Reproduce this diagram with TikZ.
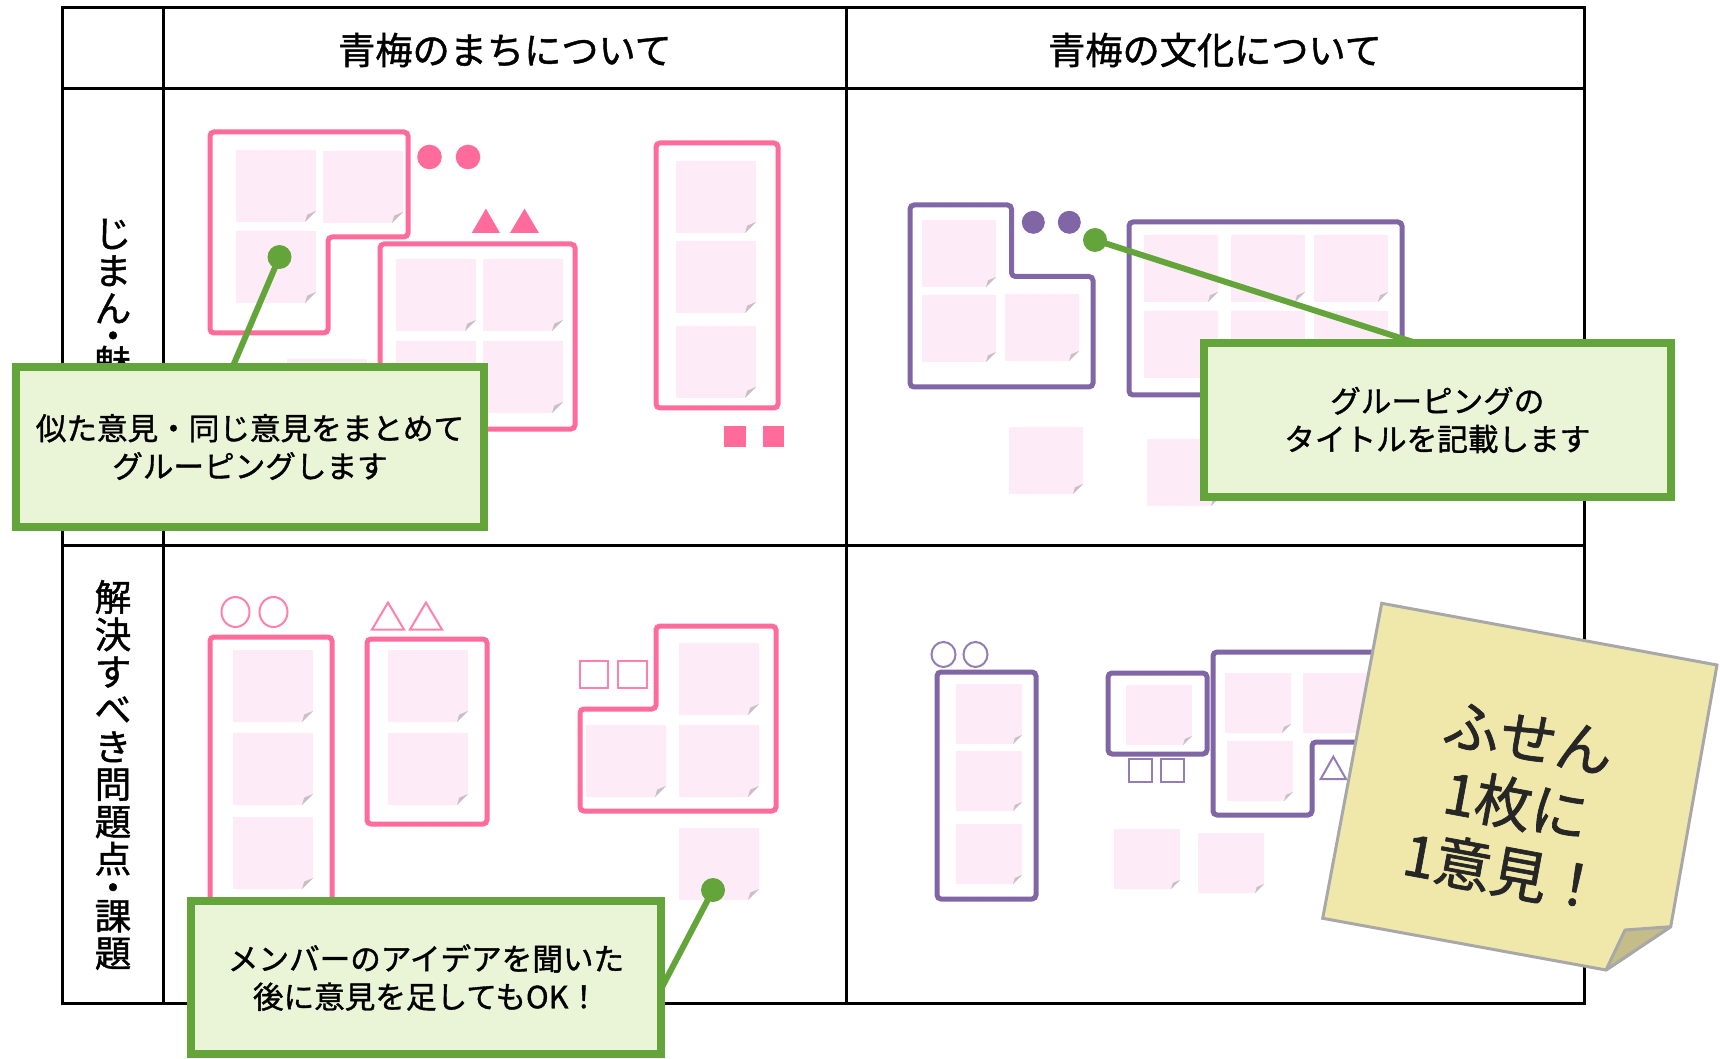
\documentclass[tikz,border=0pt]{standalone}
\usepackage{fontspec}
\newfontfamily\jp{Noto Sans CJK JP}[FakeBold=1.2]
\usetikzlibrary{calc}
\definecolor{pinkline}{HTML}{FF6B9B}
\definecolor{purpline}{HTML}{8066A4}
\definecolor{notefill}{HTML}{FDECF7}
\definecolor{foldgray}{HTML}{C9BFC9}
\definecolor{greenline}{HTML}{63A53A}
\definecolor{greenfill}{HTML}{EAF4D7}
\definecolor{stickyfill}{HTML}{F0E8AA}
\definecolor{stickyfold}{HTML}{C4BD89}
\definecolor{stickyedge}{HTML}{A8A8A8}
\definecolor{inkdark}{HTML}{262626}
\newcommand\fusen[5]{%
  \fill[notefill] (#1,#2) -- (#1+#3,#2) -- (#1+#3,#2+#4-#5) -- (#1+#3-#5,#2+#4) -- (#1,#2+#4) -- cycle;
  \fill[foldgray] (#1+#3,#2+#4-#5) -- (#1+#3-#5,#2+#4) -- (#1+#3-0.8*#5,#2+#4-0.67*#5) -- cycle;}
\newcommand\fusenL[2]{\fusen{#1}{#2}{80}{72}{11}}
\newcommand\fusenM[2]{\fusen{#1}{#2}{74}{67}{10}}
\newcommand\fusenS[2]{\fusen{#1}{#2}{66}{60}{9}}
\tikzset{
  tableline/.style={draw=black, line width=1.5pt},
  hdr/.style={font=\jp\fontsize{18.6}{18.6}\selectfont, inner sep=0pt},
  rowlbl/.style={font=\jp\fontsize{18.3}{18.7}\selectfont, align=center, inner sep=0pt},
  pinkframe/.style={draw=pinkline, line width=2.5pt, rounded corners=2pt},
  purpframe/.style={draw=purpline, line width=2.5pt, rounded corners=2pt},
  pinkmark/.style={draw=pinkline!85, line width=1pt},
  purpmark/.style={draw=purpline!85, line width=1pt},
  callout/.style={draw=greenline, line width=4pt, fill=greenfill, align=center,
    font=\jp\fontsize{15.3}{19}\selectfont, inner sep=0pt},
  gdot/.style={circle, fill=greenline, minimum size=12pt, inner sep=0pt},
  gline/.style={draw=greenline, line width=3pt},
}
\begin{document}
\begin{tikzpicture}[x=0.5pt,y=-0.5pt]
\useasboundingbox (0,0) rectangle (1720,1059);
% table
\draw[tableline] (62.5,8) rectangle (1584,1003);
\draw[tableline] (62.5,89) -- (1584,89);
\draw[tableline] (62.5,545) -- (1584,545);
\draw[tableline] (163.5,8) -- (163.5,1003);
\draw[tableline] (846,8) -- (846,1003);
\node[hdr] (h1) at (505,50) {青梅のまちについて};
\node[hdr] (h2) at (1215,50) {青梅の文化について};
\node[rowlbl] (r1) at (113,318) {じ\\ま\\ん\\[-5pt]・\\[-5pt]魅\\力};
\node[rowlbl] (r2) at (113,775) {解\\決\\す\\べ\\き\\問\\題\\点\\[-4.5pt]・\\[-4.5pt]課\\題};
% ---- top-left cell
\fusenL{236}{150}\fusenL{323}{151}\fusenL{236}{231}
\fusenL{396}{259}\fusenL{483}{259}\fusenL{396}{341}\fusenL{483}{341}
\fusenL{676}{161}\fusenL{676}{241}\fusenL{676}{326}
\fusenL{287}{359}
\draw[pinkframe] (210,132) -- (408,132) -- (408,237) -- (328,237) -- (328,333) -- (210,333) -- cycle;
\draw[pinkframe] (380,244) rectangle (575,429);
\draw[pinkframe] (656,143) rectangle (778,408);
\fill[pinkline] (429.5,157) circle [radius=12.3];
\fill[pinkline] (468,157) circle [radius=12.3];
\fill[pinkline] (471.7,233) -- (500,233) -- (485.9,208.6) -- cycle;
\fill[pinkline] (510,233) -- (539,233) -- (524.5,208.6) -- cycle;
\fill[pinkline] (724,426) rectangle (746,447);
\fill[pinkline] (762.5,426) rectangle (784.4,447);
% ---- top-right cell
\fusenM{922}{220}\fusenM{922}{295}\fusenM{1005}{294}
\fusenM{1144}{235}\fusenM{1231}{235}\fusenM{1314}{235}
\fusenM{1144}{311}\fusenM{1231}{311}\fusenM{1314}{311}
\fusenM{1009}{427}\fusenM{1147}{439}
\draw[purpframe] (910,205) -- (1011.5,205) -- (1011.5,276.5) -- (1093,276.5) -- (1093,387) -- (910,387) -- cycle;
\draw[purpframe] (1129,222) rectangle (1402,395);
\fill[purpline] (1033.3,222.3) circle [radius=11.5];
\fill[purpline] (1069.3,222.3) circle [radius=11.5];
% ---- bottom-left cell
\fusenL{233}{650}\fusenL{233}{733}\fusenL{233}{817}
\fusenL{388}{650}\fusenL{388}{733}
\fusenL{679}{643}\fusenL{586}{725}\fusenL{679}{725}
\fusenL{679}{828}
\draw[pinkframe] (210,637) rectangle (332,906);
\draw[pinkframe] (367,639) rectangle (487,824);
\draw[pinkframe] (656,626) -- (776,626) -- (776,811) -- (580,811) -- (580,709) -- (656,709) -- cycle;
\draw[pinkmark] (235.5,612) ellipse [x radius=14, y radius=15];
\draw[pinkmark] (273.5,612) ellipse [x radius=14, y radius=15];
\draw[pinkmark] (372,629.5) -- (404,629.5) -- (388,602.5) -- cycle;
\draw[pinkmark] (410,629.5) -- (442,629.5) -- (426,602.5) -- cycle;
\draw[pinkmark] (580,661) rectangle (608,688);
\draw[pinkmark] (618,661) rectangle (647,688);
% ---- bottom-right cell
\fusenS{956}{684}\fusenS{956}{751}\fusenS{956}{824}
\fusenS{1126}{685}
\fusenS{1225}{673}\fusenS{1303}{673}\fusenS{1381}{673}\fusenS{1227}{741}
\fusenS{1114}{829}\fusenS{1198}{833}
\draw[purpframe] (937,672) rectangle (1036,899);
\draw[purpframe] (1108,673) rectangle (1207,754);
\draw[purpframe] (1213,652) -- (1460,652) -- (1460,742) -- (1312,742) -- (1312,815) -- (1213,815) -- cycle;
\draw[purpmark] (943.5,654.5) ellipse [x radius=12, y radius=12.5];
\draw[purpmark] (975.5,654.5) ellipse [x radius=12, y radius=12.5];
\draw[purpmark] (1129,759) rectangle (1152,782);
\draw[purpmark] (1161,759) rectangle (1184,782);
\draw[purpmark] (1320.7,779) -- (1346,779) -- (1333.3,756.7) -- cycle;
% ---- connectors and callouts
\node[gdot] (g1) at (279.5,257) {};
\node[gdot] (g2) at (1095,240) {};
\node[gdot] (g3) at (713,890) {};
\coordinate (t1) at (233,366);
\coordinate (t2) at (1413,342);
\coordinate (t3) at (661,989);
\draw[gline] (g1.center) -- (t1);
\draw[gline] (g2.center) -- (t2);
\draw[gline] (g3.center) -- (t3);
\node[callout, minimum width=234pt, minimum height=80pt] (c1) at (250,447) {似た意見・同じ意見をまとめて\\グルーピングします};
\node[callout, minimum width=233.3pt, minimum height=77pt] (c2) at (1437.3,420) {グルーピングの\\タイトルを記載します};
\node[callout, minimum width=235pt, minimum height=76.5pt] (c3) at (426,977.5) {メンバーのアイデアを聞いた\\後に意見を足してもOK！};
% ---- big sticky note
\coordinate (s1) at (1381.7,603.3);
\coordinate (s2) at (1717,665);
\coordinate (s3) at (1670.7,926.7);
\coordinate (s4) at (1606,970);
\coordinate (s5) at (1322.7,918.3);
\coordinate (sf) at (1625,930);
\filldraw[fill=stickyfill, draw=stickyedge, line width=1.5pt] (s1) -- (s2) -- (s3) -- (s4) -- (s5) -- cycle;
\filldraw[fill=stickyfold, draw=stickyedge, line width=1.5pt, line join=round] (s3) -- (sf) -- (s4) -- cycle;
\node[rotate=-10.5, align=center, font=\jp\fontsize{28.5}{34}\selectfont, text=inkdark, inner sep=0pt] (stxt) at (1516,806) {ふせん\\1枚に\\1意見！};
\end{tikzpicture}
\end{document}
